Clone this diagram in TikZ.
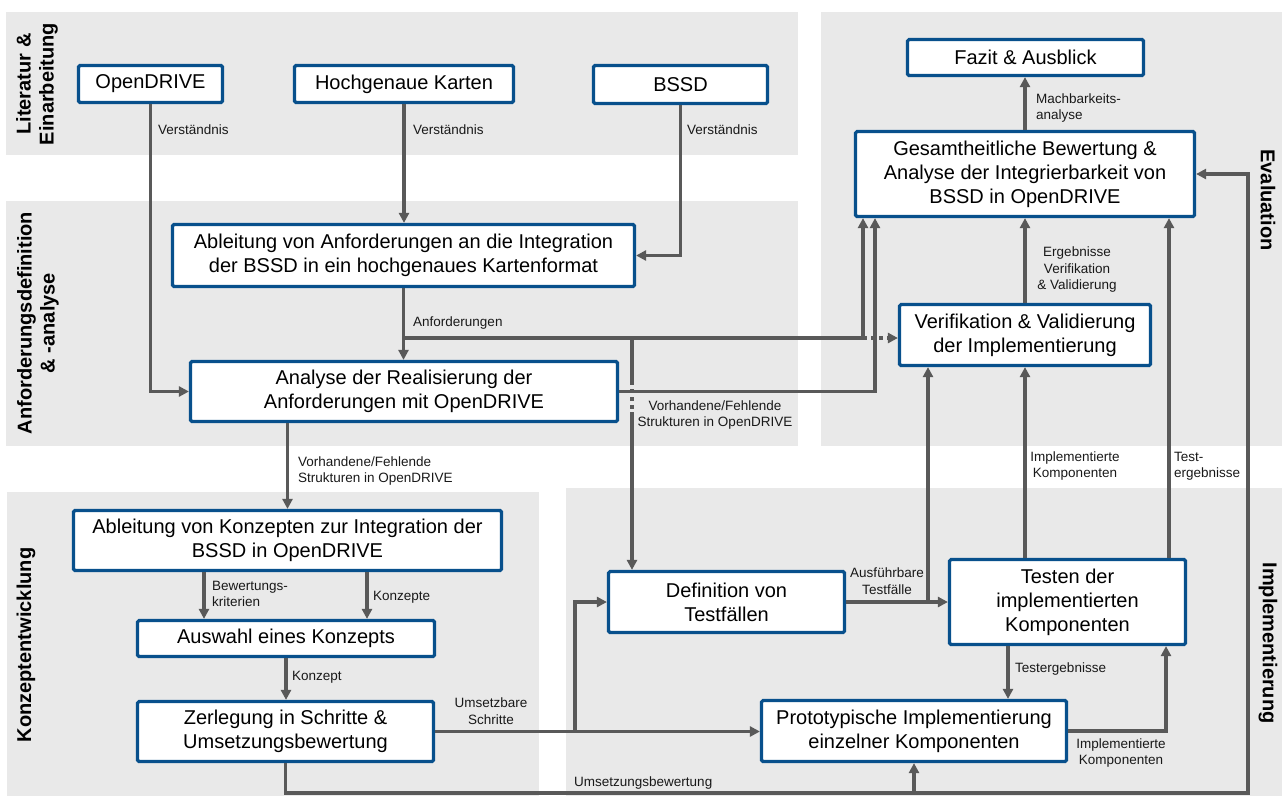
\documentclass[tikz,border=0pt]{standalone}
\usepackage{fontspec}
\setmainfont{Liberation Sans}
\usetikzlibrary{arrows.meta}
\definecolor{panelgray}{RGB}{233,233,233}
\definecolor{boxblue}{RGB}{8,80,140}
\definecolor{arrowgray}{RGB}{89,89,89}
\begin{document}
\begin{tikzpicture}[x=1pt,y=-1pt,
  box/.style={draw=boxblue, line width=3.2pt, fill=white, rounded corners=1.5pt, align=center, font=\fontsize{20}{24}\selectfont, inner sep=0pt},
  lbl/.style={font=\fontsize{13.5}{16.5}\selectfont, inner sep=0pt, text=black!90},
  lane/.style={font=\fontsize{20}{23}\selectfont\bfseries, align=center, inner sep=0pt},
  conn/.style={draw=arrowgray, line width=3.5pt},
  arr/.style={conn, -{Triangle[length=10pt,width=10pt]}},
  dsh/.style={dash pattern=on 4pt off 4pt},
]
\useasboundingbox (0,0) rectangle (1282,796);
% panels
\fill[panelgray] (6,12) rectangle (798,155);
\fill[panelgray] (6,201) rectangle (798,446);
\fill[panelgray] (7,492) rectangle (539,796);
\fill[panelgray] (566,488) rectangle (1282,796);
\fill[panelgray] (821,12) rectangle (1282,446);
% lane labels
\node[lane, rotate=90] (lane1) at (37,84) {Literatur \&\\Einarbeitung};
\node[lane, rotate=90] (lane2) at (38,323) {Anforderungsdefinition\\\& -analyse};
\node[lane, rotate=90] (lane3) at (26,645) {Konzeptentwicklung};
\node[lane, rotate=-90] (lane4) at (1268,200) {Evaluation};
\node[lane, rotate=-90] (lane5) at (1268,643) {Implementierung};
% boxes
\node[box, minimum width=144pt, minimum height=37pt] (od) at (150.5,84) {OpenDRIVE};
\node[box, minimum width=219pt, minimum height=37pt] (hk) at (404,84) {Hochgenaue Karten};
\node[box, minimum width=174pt, minimum height=38pt] (bssd) at (680.5,84.5) {BSSD};
\node[box, minimum width=236pt, minimum height=36pt] (fz) at (1025.5,57.5) {Fazit \& Ausblick};
\node[box, minimum width=339pt, minimum height=85pt] (gs) at (1025,174) {Gesamtheitliche Bewertung \&\\Analyse der Integrierbarkeit von\\BSSD in OpenDRIVE};
\node[box, minimum width=462pt, minimum height=62pt] (anf) at (403.5,255.5) {Ableitung von Anforderungen an die Integration\\der BSSD in ein hochgenaues Kartenformat};
\node[box, minimum width=427pt, minimum height=60pt] (ana) at (404,391.5) {Analyse der Realisierung der\\Anforderungen mit OpenDRIVE};
\node[box, minimum width=251pt, minimum height=61pt] (vv) at (1025,335) {Verifikation \& Validierung\\der Implementierung};
\node[box, minimum width=428pt, minimum height=60pt] (kz) at (287.5,540.5) {Ableitung von Konzepten zur Integration der\\BSSD in OpenDRIVE};
\node[box, minimum width=297pt, minimum height=36pt] (aw) at (286,638.5) {Auswahl eines Konzepts};
\node[box, minimum width=296pt, minimum height=60pt] (zl) at (285.5,731.5) {Zerlegung in Schritte \&\\Umsetzungsbewertung};
\node[box, minimum width=236pt, minimum height=61pt] (df) at (726.5,602) {Definition von\\Testfällen};
\node[box, minimum width=236pt, minimum height=85pt] (ts) at (1067.5,602) {Testen der\\implementierten\\Komponenten};
\node[box, minimum width=305pt, minimum height=61pt] (pr) at (914,731) {Prototypische Implementierung\\einzelner Komponenten};
% helper coordinates
\coordinate (b1) at (403.5,338);
\coordinate (b2) at (863,338);
\coordinate (b3) at (632,338);
\coordinate (d1) at (632,381);
\coordinate (d2) at (632,412);
\coordinate (c1) at (875,0);
\coordinate (xa) at (204,0);
\coordinate (xb) at (367,0);
\coordinate (xs) at (575,0);
\coordinate (ybot) at (0,793);
\coordinate (xr) at (1248,0);
\coordinate (xv) at (928,0);
\coordinate (xt) at (1169,0);
\coordinate (xq) at (1008,0);
\coordinate (xp) at (1166,0);
% connectors
\draw[arr] (od.south) |- (ana.west);
\draw[arr] (hk.south) -- (hk.south |- anf.north);
\draw[arr] (bssd.south) |- (anf.east);
\draw[arr] (anf.south) -- (anf.south |- ana.north);
\draw[arr] (b1) -- (b2) -- (b2 |- gs.south);
\draw[arr, dsh] (b2) -- (b2 -| vv.west);
\draw[conn] (b3) -- (d1);
\draw[conn, dsh] (d1) -- (d2);
\draw[arr] (d2) -- (d2 |- df.north);
\draw[arr] (ana.east) -| (c1 |- gs.south);
\draw[arr] (ana.south -| kz.north) -- (kz.north);
\draw[arr] (kz.south -| xa) -- (aw.north -| xa);
\draw[arr] (kz.south -| xb) -- (aw.north -| xb);
\draw[arr] (aw.south) -- (aw.south |- zl.north);
\draw[arr] (zl.east) -- (zl.east -| pr.west);
\draw[arr] (zl.east -| xs) |- (df.west);
\draw[arr] (zl.south) -- (zl.south |- ybot) -| (xr |- gs.east) -- (gs.east);
\draw[arr] (pr.south |- ybot) -- (pr.south);
\draw[arr] (df.east) -- (df.east -| ts.west);
\draw[arr] (df.east -| xv) -- (xv |- vv.south);
\draw[arr] (ts.north -| vv.south) -- (vv.south);
\draw[arr] (ts.north -| xt) -- (gs.south -| xt);
\draw[arr] (vv.north) -- (vv.north |- gs.south);
\draw[arr] (gs.north) -- (gs.north |- fz.south);
\draw[arr] (ts.south -| xq) -- (pr.north -| xq);
\draw[arr] (pr.east) -| (xp |- ts.south);
% labels
\node[lbl, anchor=west] (t1) at (158,130) {Verständnis};
\node[lbl, anchor=west] (t2) at (413,130) {Verständnis};
\node[lbl, anchor=west] (t3) at (687,130) {Verständnis};
\node[lbl, anchor=west] (t4) at (413,323) {Anforderungen};
\node[lbl, anchor=west, align=left] (t5) at (298,471) {Vorhandene/Fehlende\\Strukturen in OpenDRIVE};
\node[lbl, align=center] (t6) at (715,415) {Vorhandene/Fehlende\\Strukturen in OpenDRIVE};
\node[lbl, anchor=west, align=left] (t7) at (212,594) {Bewertungs-\\kriterien};
\node[lbl, anchor=west] (t8) at (373,597) {Konzepte};
\node[lbl, anchor=west] (t9) at (292,677) {Konzept};
\node[lbl, align=center] (t10) at (491,711) {Umsetzbare\\Schritte};
\node[lbl, anchor=west] (t11) at (574,783) {Umsetzungsbewertung};
\node[lbl, align=center] (t12) at (887,581) {Ausführbare\\Testfälle};
\node[lbl, align=center] (t13) at (1075,466) {Implementierte\\Komponenten};
\node[lbl, anchor=west, align=left] (t14) at (1174,466) {Test-\\ergebnisse};
\node[lbl, align=center] (t15) at (1077,270) {Ergebnisse\\Verifikation\\\& Validierung};
\node[lbl, anchor=west, align=left] (t16) at (1036,108) {Machbarkeits-\\analyse};
\node[lbl, anchor=west] (t17) at (1015,669) {Testergebnisse};
\node[lbl, align=center] (t18) at (1121,753) {Implementierte\\Komponenten};
\end{tikzpicture}
\end{document}
